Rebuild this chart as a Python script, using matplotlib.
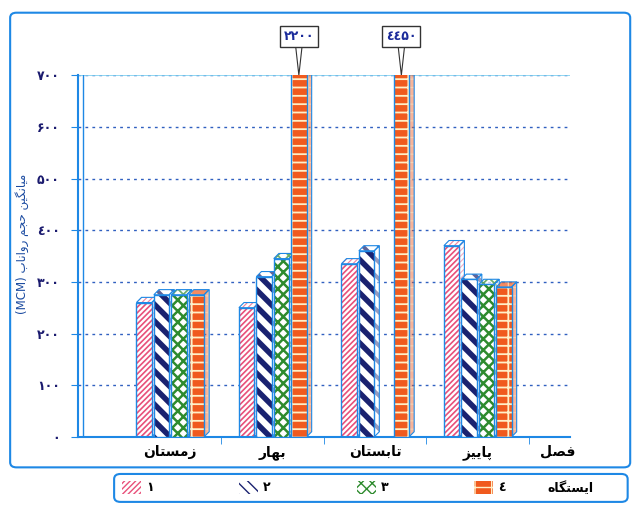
import matplotlib.pyplot as plt
import numpy as np
from matplotlib.patches import Polygon, FancyBboxPatch, Patch

# فصل‌ها و ایستگاه‌ها
seasons = ['زمستان', 'بهار', 'تابستان', 'پاییز']
stations = ['۱', '۲', '۳', '٤']

# میانگین حجم رواناب هر ایستگاه در هر فصل
st1 = [260, 250, 335, 370]
st2 = [275, 310, 360, 305]
st3 = [275, 345, 0, 295]
st4 = [275, 2200, 4450, 290]

yticks = [0, 100, 200, 300, 400, 500, 600, 700]
ytick_labels = ['۰', '۱۰۰', '۲۰۰', '۳۰۰', '٤۰۰', '۵۰۰', '۶۰۰', '۷۰۰']

# شکل‌دهی ساده حروف فارسی (matplotlib حروف را به هم وصل نمی‌کند)
FORMS = {
    'ا': ('\uFE8D', '\uFE8E', None, None),
    'ب': ('\uFE8F', '\uFE90', '\uFE91', '\uFE92'),
    'پ': ('\uFB56', '\uFB57', '\uFB58', '\uFB59'),
    'ت': ('\uFE95', '\uFE96', '\uFE97', '\uFE98'),
    'ج': ('\uFE9D', '\uFE9E', '\uFE9F', '\uFEA0'),
    'ح': ('\uFEA1', '\uFEA2', '\uFEA3', '\uFEA4'),
    'د': ('\uFEA9', '\uFEAA', None, None),
    'ر': ('\uFEAD', '\uFEAE', None, None),
    'ز': ('\uFEAF', '\uFEB0', None, None),
    'س': ('\uFEB1', '\uFEB2', '\uFEB3', '\uFEB4'),
    'ص': ('\uFEB9', '\uFEBA', '\uFEBB', '\uFEBC'),
    'ف': ('\uFED1', '\uFED2', '\uFED3', '\uFED4'),
    'ک': ('\uFB8E', '\uFB8F', '\uFB90', '\uFB91'),
    'گ': ('\uFB92', '\uFB93', '\uFB94', '\uFB95'),
    'ل': ('\uFEDD', '\uFEDE', '\uFEDF', '\uFEE0'),
    'م': ('\uFEE1', '\uFEE2', '\uFEE3', '\uFEE4'),
    'ن': ('\uFEE5', '\uFEE6', '\uFEE7', '\uFEE8'),
    'و': ('\uFEED', '\uFEEE', None, None),
    'ه': ('\uFEE9', '\uFEEA', '\uFEEB', '\uFEEC'),
    'ی': ('\uFBFC', '\uFBFD', '\uFBFE', '\uFBFF'),
}


def fa(text):
    out = []
    for i, ch in enumerate(text):
        if ch not in FORMS:
            out.append(ch)
            continue
        prev = text[i - 1] if i > 0 else ''
        nxt = text[i + 1] if i + 1 < len(text) else ''
        joins_prev = prev in FORMS and FORMS[prev][2] is not None
        joins_next = FORMS[ch][2] is not None and nxt in FORMS
        iso, fin, ini, med = FORMS[ch]
        if joins_prev and joins_next:
            out.append(med)
        elif joins_prev:
            out.append(fin)
        elif joins_next:
            out.append(ini)
        else:
            out.append(iso)
    return ''.join(reversed(out))


plt.rcParams['font.family'] = 'DejaVu Sans'

fig = plt.figure(figsize=(6.34, 5.08), dpi=100)
ax = fig.add_axes([0.123, 0.14, 0.776, 0.712])

frame_blue = '#1e88e5'
x = np.arange(len(seasons))
w = 0.15
step = 0.17
dx, dy = 0.05, 10

# ظاهر هر ایستگاه: رنگ زمینه، رنگ هاشور، الگو، ضخامت هاشور
styles = [
    (st1, 'white', '#e8507a', '//////', 1.2),
    (st2, 'white', '#1a2270', '\\\\', 4.0),
    (st3, 'white', '#2e8b2e', 'xxx', 1.8),
    (st4, '#f05a1e', '#fff0c8', '--|', 1.3),
]


def set_hlw(p, lw):
    if hasattr(p, 'set_hatch_linewidth'):
        p.set_hatch_linewidth(lw)
    else:
        p._hatch_linewidth = lw


for i, (vals, face, hcol, hatch, hlw) in enumerate(styles):
    xs = x + (i - 1.5) * step
    keep = [v > 0 for v in vals]
    for xc, v in zip(xs, vals):
        if v <= 0:
            continue
        side = Polygon([(xc + w / 2, 0), (xc + w / 2 + dx, dy),
                        (xc + w / 2 + dx, v + dy), (xc + w / 2, v)],
                       facecolor=face, edgecolor=hcol, hatch=hatch, lw=0,
                       alpha=0.45, zorder=2 + i)
        top = Polygon([(xc - w / 2, v), (xc - w / 2 + dx, v + dy),
                       (xc + w / 2 + dx, v + dy), (xc + w / 2, v)],
                      facecolor=face, edgecolor=hcol, hatch=hatch, lw=0,
                      alpha=0.7, zorder=2 + i)
        set_hlw(side, hlw * 0.7)
        set_hlw(top, hlw * 0.7)
        ax.add_patch(side)
        ax.add_patch(top)
        ax.add_patch(Polygon(side.get_xy(), fill=False, edgecolor=frame_blue,
                             lw=0.8, zorder=2 + i))
        ax.add_patch(Polygon(top.get_xy(), fill=False, edgecolor=frame_blue,
                             lw=0.8, zorder=2 + i))
    bx = xs[keep]
    bv = np.array(vals)[keep]
    bars = ax.bar(bx, bv, w, color=face, edgecolor=hcol, hatch=hatch, lw=0, zorder=2.5 + i)
    for b in bars:
        set_hlw(b, hlw)
    ax.bar(bx, bv, w, fill=False, edgecolor=frame_blue, lw=1.0, zorder=2.6 + i)

# مقادیر خارج از محور
for xi, v in zip(x, st4):
    if v > yticks[-1]:
        digits = str(v).translate(str.maketrans('0123456789', '۰۱۲۳٤۵۶۷۸۹'))
        ax.annotate(digits, xy=(xi + 1.5 * step, yticks[-1]), xytext=(0, 28),
                    textcoords='offset points', ha='center', va='center',
                    fontsize=9, fontweight='bold', color='#1a2a9a',
                    annotation_clip=False,
                    bbox=dict(boxstyle='square,pad=0.3', fc='white', ec='#333333', lw=1),
                    arrowprops=dict(arrowstyle='wedge,tail_width=0.5', fc='white',
                                    ec='#333333', lw=0.8, shrinkA=0, shrinkB=0))

ax.set_xlim(-0.9, 3.9)
ax.set_ylim(0, 700)
ax.set_yticks(yticks)
ax.set_yticklabels(ytick_labels, fontsize=9, fontweight='bold', color='#1a1a6e')
ax.set_xticks(x)
ax.set_xticklabels([fa(s) for s in seasons], fontsize=10, fontweight='bold')
ax.set_xticks(list(x[:-1] + 0.5) + [3.5], minor=True)
ax.tick_params(axis='x', which='major', length=0, pad=6)
ax.tick_params(axis='x', which='minor', length=5, color=frame_blue, direction='out')
ax.tick_params(axis='y', length=5, color=frame_blue, pad=8)
ax.text(3.78, -28, fa('فصل'), ha='center', va='center', fontsize=10, fontweight='bold')

ax.grid(axis='y', linestyle=(0, (2, 3)), color='#3060c0', lw=1.0)
ax.set_axisbelow(True)
for s in ['top', 'right']:
    ax.spines[s].set_visible(False)
ax.spines['left'].set_color(frame_blue)
ax.spines['left'].set_linewidth(1.5)
ax.spines['bottom'].set_color(frame_blue)
ax.spines['bottom'].set_linewidth(1.5)
ax.axhline(700, color='#7fd0f0', lw=1.2, zorder=1)
ax.axvline(-0.9 + dx, color=frame_blue, lw=1.0, zorder=1)

fig.text(0.035, 0.52, '(MCM) ' + fa('میانگین حجم رواناب'), rotation=90,
         ha='center', va='center', fontsize=8.5, color='#1a4aa0')

# کادر بیرونی و کادر راهنما
fig.patches.append(FancyBboxPatch((0.016, 0.08), 0.978, 0.895,
                                  boxstyle='round,pad=0,rounding_size=0.01',
                                  transform=fig.transFigure, fill=False,
                                  ec=frame_blue, lw=1.5))
fig.patches.append(FancyBboxPatch((0.18, 0.012), 0.81, 0.055,
                                  boxstyle='round,pad=0,rounding_size=0.01',
                                  transform=fig.transFigure, fill=False,
                                  ec=frame_blue, lw=1.5))

# نمونه‌های راهنما با هاشور فشرده‌تر
legend_hatch = ['//////', '\\\\\\', 'xxx', '--|']
legend_hlw = [1.0, 2.2, 1.3, 1.0]
handles = []
for (_, f, h, _, _), ht, hlw in zip(styles, legend_hatch, legend_hlw):
    p = Patch(facecolor=f, edgecolor=h, hatch=ht, lw=0)
    set_hlw(p, hlw)
    handles.append(p)
fig.legend(handles, stations, ncol=4, loc='center left',
           bbox_to_anchor=(0.175, 0.04, 0.64, 0), mode='expand', frameon=False,
           handlelength=1.5, handleheight=1.2, handletextpad=0.4,
           prop={'size': 9, 'weight': 'bold'})
fig.text(0.9, 0.04, fa('ایستگاه'), ha='center', va='center', fontsize=9,
         fontweight='bold')

fig.savefig('out.png', dpi=100)
